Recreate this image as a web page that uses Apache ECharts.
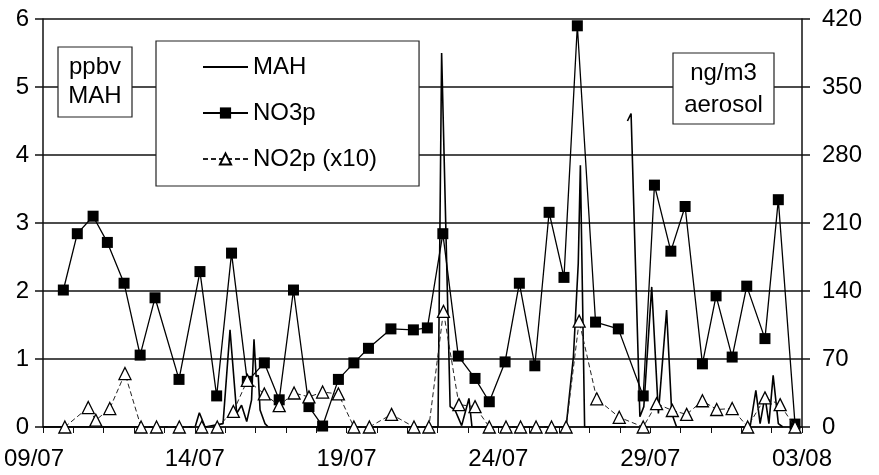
<!DOCTYPE html>
<html>
<head>
<meta charset="utf-8">
<script src="https://cdn.jsdelivr.net/npm/echarts@6/dist/echarts.min.js"></script>
<style>
html,body{margin:0;padding:0;background:#fff;}
#chart{width:879px;height:475px;}
</style>
</head>
<body>
<div id="chart"></div>
<script>
// x values are days since 09/07
const xTickLabels = ['09/07', '14/07', '19/07', '24/07', '29/07', '03/08'];
const leftTicks = [0, 1, 2, 3, 4, 5, 6];
const rightTicks = [0, 70, 140, 210, 280, 350, 420];

// MAH (ppbv, left axis): [day, value]
const mahDays = [0, 5.01, 5.15, 5.34, 5.93, 6.16, 6.38, 6.54, 6.71, 6.87, 6.95, 7.02, 7.09, 7.15, 7.31, 7.42,
  13.01, 13.13, 13.41, 13.57, 13.79, 14.03, 14.13,
  17.23, 17.47, 17.63, 17.70, 17.84,
  19.20, 19.22, 19.25, 19.37, 19.66, 19.79, 20.05, 20.27, 20.54, 20.71, 20.87,
  23.29, 23.48, 23.62, 23.78, 23.91, 24.05, 24.22, 24.37];
const mahValues = [0, 0, 0.21, 0, 0.05, 1.43, 0.2, 0.32, 0.08, 0.4, 1.29, 0.74, 0.76, 0.25, 0.05, 0,
  0, 5.5, 0.3, 0.25, 0.02, 0.42, 0,
  0, 1.03, 2.4, 3.85, 0,
  0, '-', 4.5, 4.61, 0.15, 0.3, 2.06, 0.2, 1.72, 0.2, 0,
  0, 0.54, 0.05, 0.45, 0.05, 0.76, 0.05, 0];

// NO3p (ng/m3, right axis)
const no3Days = [0.67, 1.13, 1.65, 2.12, 2.67, 3.2, 3.69, 4.48, 5.17, 5.72, 6.21, 6.73, 7.29, 7.78, 8.25, 8.76,
  9.21, 9.73, 10.24, 10.72, 11.46, 12.2, 12.66, 13.17, 13.68, 14.23, 14.7, 15.22, 15.69, 16.2, 16.67, 17.16,
  17.6, 18.2, 18.95, 19.77, 20.14, 20.68, 21.15, 21.72, 22.17, 22.7, 23.18, 23.78, 24.22, 24.77];
const no3Values = [141, 199, 217, 190, 148, 74, 133, 49, 160, 32, 179, 47, 66, 28, 141, 21,
  1, 49, 66, 81, 101, 100, 102, 199, 73, 50, 26, 67, 148, 63, 221, 154,
  413, 108, 101, 32, 249, 181, 227, 65, 135, 72, 145, 91, 234, 3];

// NO2p x10 (right axis)
const no2Days = [0.72, 1.49, 1.74, 2.2, 2.7, 3.23, 3.74, 4.49, 5.23, 5.74, 6.27, 6.73, 7.29, 7.78, 8.27, 8.76,
  9.21, 9.73, 10.24, 10.75, 11.48, 12.22, 12.71, 13.19, 13.7, 14.23, 14.7, 15.25, 15.73, 16.24, 16.75, 17.23,
  17.66, 18.24, 18.98, 19.77, 20.21, 20.73, 21.2, 21.72, 22.19, 22.7, 23.21, 23.78, 24.28, 24.77];
const no2Values = [0, 20, 7, 19, 55, 0, 0, 0, 0, 0, 16, 48, 34, 22, 35, 31,
  36, 34, 0, 0, 13, 0, 0, 119, 23, 21, 0, 0, 0, 0, 0, 0,
  109, 29, 10, 0, 24, 17, 13, 27, 18, 19, 0, 30, 23, 0];

const unitLeft = 'ppbv\nMAH';
const unitRight = 'ng/m3\naerosol';

const zip = (a, b) => a.map((d, i) => [d, b[i]]);
const FONT = 'Liberation Sans, Arial, sans-serif';
const FS = 24;

const chart = echarts.init(document.getElementById('chart'), null, {renderer: 'canvas'});
chart.setOption({
  backgroundColor: '#fff',
  animation: false,
  textStyle: {fontFamily: FONT, color: '#000'},
  graphic: [
    {type: 'rect', z: 10, shape: {x: 58, y: 47, width: 74, height: 70},
      style: {fill: '#fff', stroke: '#222', lineWidth: 1.2}},
    {type: 'text', z: 11, x: 95, y: 82,
      style: {text: unitLeft, font: FS + 'px ' + FONT, fill: '#000', align: 'center', verticalAlign: 'middle', lineHeight: 29}},
    {type: 'rect', z: 10, shape: {x: 673, y: 53, width: 101, height: 71},
      style: {fill: '#fff', stroke: '#222', lineWidth: 1.2}},
    {type: 'text', z: 11, x: 723.5, y: 89,
      style: {text: unitRight, font: FS + 'px ' + FONT, fill: '#000', align: 'center', verticalAlign: 'middle', lineHeight: 32}}
  ],
  legend: {
    orient: 'vertical', left: 156, top: 41,
    padding: [13, 42, 14, 46], itemGap: 20, itemWidth: 45, itemHeight: 14,
    borderColor: '#222', borderWidth: 1.2, backgroundColor: '#fff',
    textStyle: {fontSize: FS, lineHeight: 26, color: '#000', fontFamily: FONT},
    data: [{name: 'MAH', itemStyle: {opacity: 0}}, 'NO3p', 'NO2p (x10)']
  },
  grid: {left: 43, right: 77, top: 19, bottom: 48},
  xAxis: {
    type: 'value', min: 0, max: 25, interval: 5,
    axisLine: {show: true, onZero: false, lineStyle: {color: '#111', width: 1.5}},
    axisTick: {show: true, length: 6, lineStyle: {color: '#111', width: 1}},
    minorTick: {show: true, splitNumber: 5, length: 6, lineStyle: {color: '#111', width: 1}},
    splitLine: {show: false},
    axisLabel: {
      fontSize: FS, color: '#000', margin: 20, fontFamily: FONT,
      formatter: function (v) {
        const s = xTickLabels[Math.round(v / 5)];
        return v === 0 ? '{first|' + s + '}' : s;
      },
      rich: {first: {fontSize: FS, fontFamily: FONT, padding: [0, 18, 0, 0]}}
    }
  },
  yAxis: [
    {
      type: 'value', min: 0, max: 6, interval: 1, position: 'left',
      axisLine: {show: true, lineStyle: {color: '#111', width: 1.5}},
      axisTick: {show: true, length: 8, lineStyle: {color: '#111', width: 1.5}},
      splitLine: {show: true, lineStyle: {color: '#111', width: 1.5}},
      axisLabel: {fontSize: FS, color: '#000', margin: 14, fontFamily: FONT,
        formatter: v => String(leftTicks[Math.round(v)])}
    },
    {
      type: 'value', min: 0, max: 420, interval: 70, position: 'right',
      axisLine: {show: true, lineStyle: {color: '#111', width: 1.5}},
      axisTick: {show: true, length: 8, lineStyle: {color: '#111', width: 1.5}},
      splitLine: {show: false},
      axisLabel: {fontSize: FS, color: '#000', margin: 20, fontFamily: FONT,
        formatter: v => String(rightTicks[Math.round(v / 70)])}
    }
  ],
  series: [
    {
      name: 'MAH', type: 'line', yAxisIndex: 0, data: zip(mahDays, mahValues),
      showSymbol: false, symbol: 'none', connectNulls: false,
      lineStyle: {color: '#000', width: 1.6}, itemStyle: {color: '#000'}, z: 3
    },
    {
      name: 'NO3p', type: 'line', yAxisIndex: 1, data: zip(no3Days, no3Values),
      symbol: 'rect', symbolSize: 11, showSymbol: true,
      lineStyle: {color: '#000', width: 1.3}, itemStyle: {color: '#000'}, z: 4
    },
    {
      name: 'NO2p (x10)', type: 'line', yAxisIndex: 1, data: zip(no2Days, no2Values),
      symbol: 'triangle', symbolSize: 12, showSymbol: true,
      lineStyle: {color: '#222', width: 1, type: [5, 3]},
      itemStyle: {color: '#fff', borderColor: '#000', borderWidth: 1.3}, z: 5
    }
  ]
});
</script>
</body>
</html>
